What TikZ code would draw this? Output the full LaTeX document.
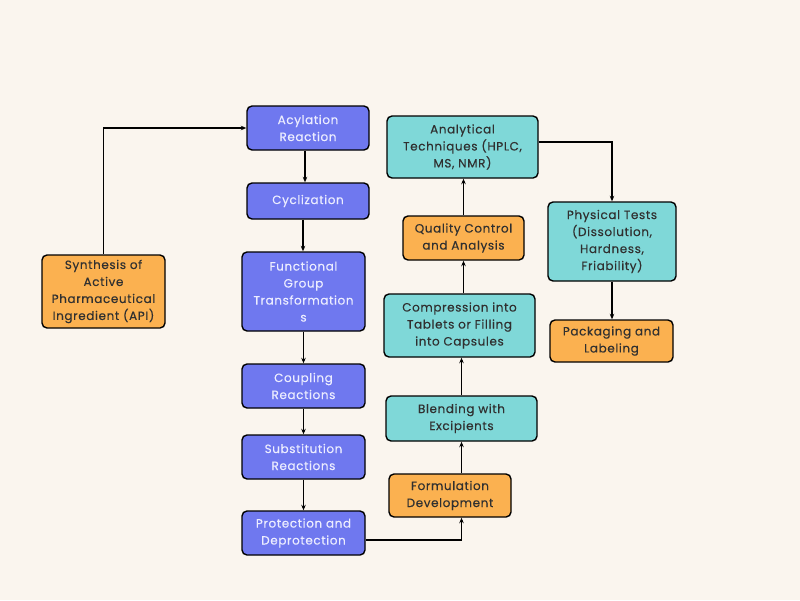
\documentclass[tikz,border=0pt]{standalone}
\usepackage{fontspec}
\setmainfont{Poppins}[LetterSpace=5,FakeBold=0.3]
\usepackage{xcolor}
\usetikzlibrary{arrows.meta,positioning}

\definecolor{bgcream}{HTML}{FAF5EE}
\definecolor{synblue}{HTML}{6F78EF}
\definecolor{synorange}{HTML}{FBB150}
\definecolor{synteal}{HTML}{7FD8D8}
\definecolor{bluetext}{HTML}{ECEDFF}
\definecolor{darktext}{HTML}{303030}

\begin{document}
\begin{tikzpicture}[x=1pt,y=-1pt,>={Stealth[length=5.5pt,width=4.5pt]},line width=1.4pt,
    box/.style={draw=black,rounded corners=5pt,align=center,inner sep=2pt,
        font=\fontsize{12}{17}\selectfont,text=darktext,line width=1.4pt},
    chem/.style={box,fill=synblue,text=bluetext,minimum width=123pt},
    orange/.style={box,fill=synorange},
    teal/.style={box,fill=synteal}]

    % Background
	\fill[bgcream] (0,0) rectangle (800,600);
	\useasboundingbox (0,0) rectangle (800,600);

    % API synthesis chain
	\node [orange,minimum width=123pt,minimum height=73pt] at (103.5,291.5) (api) {Synthesis of\\Active\\Pharmaceutical\\Ingredient (API)};
	\node [chem,minimum width=122pt,minimum height=44pt] at (308,128) (acyl) {Acylation\\Reaction};
	\node [chem,minimum width=122pt,minimum height=36pt] at (308,201) (cycl) {Cyclization};
	\node [chem,minimum height=79pt] at (303.5,291.5) (fgt) {Functional\\Group\\Transformation\\s};
	\node [chem,minimum height=44pt] at (303.5,386) (coup) {Coupling\\Reactions};
	\node [chem,minimum height=44pt] at (303.5,457) (subst) {Substitution\\Reactions};
	\node [chem,minimum height=44pt] at (303.5,533) (prot) {Protection and\\Deprotection};

    % Formulation and testing
	\node [orange,minimum width=122pt,minimum height=43pt] at (450,495.5) (form) {Formulation\\Development};
	\node [teal,minimum width=151pt,minimum height=45pt] at (461.5,418.5) (blend) {Blending with\\Excipients};
	\node [teal,minimum width=151pt,minimum height=63pt] at (459.5,325.5) (comp) {Compression into\\Tablets or Filling\\into Capsules};
	\node [orange,minimum width=121pt,minimum height=44pt] at (463.5,238) (qc) {Quality Control\\and Analysis};
	\node [teal,minimum width=151pt,minimum height=62pt] at (462.5,147) (anal) {Analytical\\Techniques (HPLC,\\MS, NMR)};
	\node [teal,minimum width=128pt,minimum height=79pt] at (612,241.5) (phys) {Physical Tests\\(Dissolution,\\Hardness,\\Friability)};
	\node [orange,minimum width=123pt,minimum height=42pt] at (611.5,341) (pack) {Packaging and\\Labeling};

    % Edges
	\draw[->] (api.north) |- (acyl.west);
	\draw[->] ([xshift=-3pt]acyl.south) -- ([xshift=-3pt]acyl.south |- cycl.north);
	\draw[->] ([xshift=-5pt]cycl.south) -- ([xshift=-5pt]cycl.south |- fgt.north);
	\draw[->] (fgt.south) -- (fgt.south |- coup.north);
	\draw[->] (coup.south) -- (coup.south |- subst.north);
	\draw[->] (subst.south) -- (subst.south |- prot.north);
	\draw[->] ([yshift=-7pt]prot.east) -| (form.south -| blend.south);
	\draw[->] (form.north -| blend.south) -- (blend.south);
	\draw[->] (blend.north) -- (blend.north |- comp.south);
	\draw[->] (comp.north -| qc.south) -- (qc.south);
	\draw[->] (qc.north) -- (qc.north |- anal.south);
	\draw[->] ([yshift=5pt]anal.east) -| (phys.north);
	\draw[->] (phys.south) -- (phys.south |- pack.north);

\end{tikzpicture}
\end{document}
